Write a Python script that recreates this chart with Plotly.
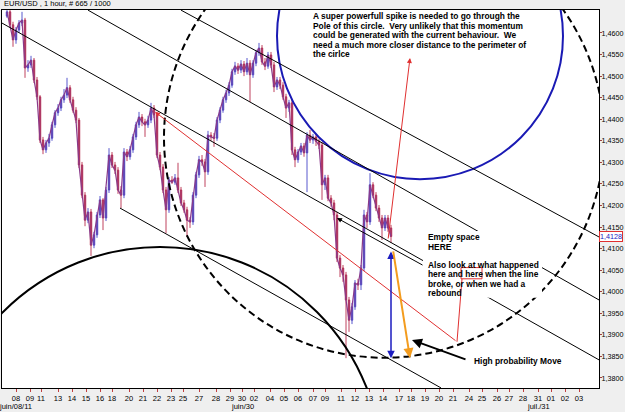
import plotly.graph_objects as go

# ---------------- data (EUR/USD, 1 hour) ----------------
bar_index = list(range(7, 392, 3))

open_ = [1.4639, 1.4649, 1.4619, 1.4584, 1.4607, 1.4623, 1.4630, 1.4519, 1.4526, 1.4537,
         1.4491, 1.4452, 1.4352, 1.4329, 1.4345, 1.4356, 1.4387, 1.4415, 1.4426, 1.4445,
         1.4456, 1.4473, 1.4445, 1.4421, 1.4398, 1.4294, 1.4224, 1.4166, 1.4185, 1.4108,
         1.4132, 1.4178, 1.4213, 1.4171, 1.4236, 1.4317, 1.4294, 1.4282, 1.4236, 1.4224,
         1.4324, 1.4313, 1.4329, 1.4359, 1.4387, 1.4405, 1.4394, 1.4387, 1.4398, 1.4426,
         1.4410, 1.4317, 1.4289, 1.4236, 1.4190, 1.4259, 1.4254, 1.4264, 1.4236, 1.4206,
         1.4190, 1.4166, 1.4162, 1.4224, 1.4271, 1.4306, 1.4301, 1.4278, 1.4363, 1.4359,
         1.4356, 1.4398, 1.4421, 1.4445, 1.4461, 1.4479, 1.4510, 1.4523, 1.4514, 1.4528,
         1.4510, 1.4530, 1.4503, 1.4530, 1.4554, 1.4565, 1.4533, 1.4523, 1.4549, 1.4526,
         1.4475, 1.4491, 1.4479, 1.4452, 1.4426, 1.4438, 1.4329, 1.4306, 1.4324, 1.4338,
         1.4322, 1.4363, 1.4352, 1.4359, 1.4349, 1.4340, 1.4248, 1.4264, 1.4217, 1.4206,
         1.4178, 1.4078, 1.4055, 1.4039, 1.3981, 1.3934, 1.3965, 1.4020, 1.4016, 1.4055,
         1.4178, 1.4162, 1.4248, 1.4224, 1.4194, 1.4171, 1.4148, 1.4171, 1.4148]

high = [1.4653, 1.4653, 1.4626, 1.4614, 1.4630, 1.4649, 1.4635, 1.4537, 1.4547, 1.4542,
        1.4498, 1.4456, 1.4359, 1.4352, 1.4366, 1.4394, 1.4421, 1.4435, 1.4452, 1.4470,
        1.4496, 1.4479, 1.4452, 1.4428, 1.4403, 1.4301, 1.4231, 1.4194, 1.4192, 1.4139,
        1.4185, 1.4222, 1.4217, 1.4243, 1.4333, 1.4324, 1.4301, 1.4289, 1.4245, 1.4333,
        1.4331, 1.4338, 1.4366, 1.4394, 1.4417, 1.4412, 1.4401, 1.4408, 1.4438, 1.4433,
        1.4417, 1.4324, 1.4296, 1.4243, 1.4266, 1.4268, 1.4273, 1.4299, 1.4243, 1.4213,
        1.4197, 1.4173, 1.4231, 1.4278, 1.4315, 1.4317, 1.4308, 1.4373, 1.4370, 1.4368,
        1.4405, 1.4428, 1.4452, 1.4468, 1.4486, 1.4517, 1.4533, 1.4530, 1.4537, 1.4535,
        1.4542, 1.4537, 1.4537, 1.4561, 1.4577, 1.4572, 1.4542, 1.4556, 1.4556, 1.4533,
        1.4498, 1.4498, 1.4486, 1.4459, 1.4445, 1.4445, 1.4336, 1.4331, 1.4345, 1.4345,
        1.4370, 1.4375, 1.4366, 1.4366, 1.4354, 1.4347, 1.4271, 1.4271, 1.4224, 1.4213,
        1.4185, 1.4085, 1.4062, 1.4046, 1.3988, 1.3974, 1.4027, 1.4030, 1.4062, 1.4190,
        1.4185, 1.4275, 1.4254, 1.4231, 1.4201, 1.4178, 1.4178, 1.4178, 1.4155]

low = [1.4635, 1.4612, 1.4568, 1.4575, 1.4600, 1.4616, 1.4496, 1.4510, 1.4519, 1.4484,
       1.4445, 1.4345, 1.4319, 1.4322, 1.4336, 1.4350, 1.4380, 1.4408, 1.4419, 1.4438,
       1.4449, 1.4438, 1.4415, 1.4391, 1.4287, 1.4217, 1.4152, 1.4159, 1.4083, 1.4101,
       1.4125, 1.4171, 1.4143, 1.4164, 1.4229, 1.4287, 1.4273, 1.4227, 1.4194, 1.4217,
       1.4303, 1.4306, 1.4322, 1.4352, 1.4380, 1.4384, 1.4359, 1.4380, 1.4391, 1.4403,
       1.4310, 1.4282, 1.4229, 1.4136, 1.4183, 1.4250, 1.4248, 1.4229, 1.4199, 1.4183,
       1.4127, 1.4148, 1.4155, 1.4217, 1.4264, 1.4292, 1.4243, 1.4271, 1.4350, 1.4336,
       1.4350, 1.4391, 1.4415, 1.4438, 1.4454, 1.4473, 1.4503, 1.4505, 1.4507, 1.4500,
       1.4503, 1.4440, 1.4496, 1.4523, 1.4547, 1.4526, 1.4514, 1.4517, 1.4519, 1.4463,
       1.4468, 1.4470, 1.4445, 1.4403, 1.4417, 1.4317, 1.4289, 1.4299, 1.4317, 1.4313,
       1.4231, 1.4345, 1.4343, 1.4338, 1.4331, 1.4213, 1.4236, 1.4210, 1.4197, 1.4166,
       1.4069, 1.4034, 1.4023, 1.3846, 1.3907, 1.3925, 1.3958, 1.4004, 1.4004, 1.4048,
       1.4148, 1.4155, 1.4217, 1.4187, 1.4162, 1.4120, 1.4141, 1.4139, 1.4113]

close = [1.4649, 1.4619, 1.4584, 1.4607, 1.4623, 1.4630, 1.4519, 1.4526, 1.4537, 1.4491,
         1.4452, 1.4352, 1.4329, 1.4345, 1.4356, 1.4387, 1.4415, 1.4426, 1.4445, 1.4456,
         1.4473, 1.4445, 1.4421, 1.4398, 1.4294, 1.4224, 1.4166, 1.4185, 1.4108, 1.4132,
         1.4178, 1.4213, 1.4171, 1.4236, 1.4317, 1.4294, 1.4282, 1.4236, 1.4224, 1.4324,
         1.4313, 1.4329, 1.4359, 1.4387, 1.4405, 1.4394, 1.4387, 1.4398, 1.4426, 1.4410,
         1.4317, 1.4289, 1.4236, 1.4190, 1.4259, 1.4254, 1.4264, 1.4236, 1.4206, 1.4190,
         1.4166, 1.4162, 1.4224, 1.4271, 1.4306, 1.4301, 1.4278, 1.4363, 1.4359, 1.4356,
         1.4398, 1.4421, 1.4445, 1.4461, 1.4479, 1.4510, 1.4523, 1.4514, 1.4528, 1.4510,
         1.4530, 1.4503, 1.4530, 1.4554, 1.4565, 1.4533, 1.4523, 1.4549, 1.4526, 1.4475,
         1.4491, 1.4479, 1.4452, 1.4426, 1.4438, 1.4329, 1.4306, 1.4324, 1.4338, 1.4322,
         1.4363, 1.4352, 1.4359, 1.4349, 1.4340, 1.4248, 1.4264, 1.4217, 1.4206, 1.4178,
         1.4078, 1.4055, 1.4039, 1.3981, 1.3934, 1.3965, 1.4020, 1.4016, 1.4055, 1.4178,
         1.4162, 1.4248, 1.4224, 1.4194, 1.4171, 1.4148, 1.4171, 1.4148, 1.4128]

last_price = 1.4128

tick_pos = [16, 30, 41, 58, 72, 86, 100, 112, 129, 143, 157, 171, 183, 199,
            216, 230, 242, 254, 270, 284, 298, 313, 325, 341, 355, 369, 383, 399, 411,
            425, 439, 453, 469, 482, 497, 509, 523, 538, 551, 565, 579]
tick_text = ['08', '09', '11', '13', '14', '15', '16', '18', '20', '21', '22', '23', '25', '27',
             '28', '29', '30', '02', '04', '05', '06', '07', '09', '11', '12', '13', '14', '17', '18',
             '19', '20', '21', '24', '25', '26', '27', '28', '31', '01', '02', '03']
period_labels = [(15, 'juin/08/11'), (242, 'juin/30'), (538, 'juil./31')]

price_ticks = [1.380, 1.385, 1.390, 1.395, 1.400, 1.405, 1.410, 1.415, 1.420,
               1.425, 1.430, 1.435, 1.440, 1.445, 1.450, 1.455, 1.460]

# drawing tools placed on the chart (bar index, price)
trend_lines = [((181, 1.4653), (599, 1.4127)),
               ((88, 1.4653), (599, 1.3981)),
               ((2, 1.4623), (599, 1.3842)),
               ((120, 1.4194), (441, 1.3777))]
dashed_circle = (164, 604, 1.3847, 1.4868)
blue_circle = (277, 563, 1.4261, 1.4925)
black_arc = (-62, 382, 1.3074, 1.4104)

note_top = ["A super powerfull spike is needed to go through the",
            "Pole of this circle.\u00a0 Very unlikely that this momentum",
            "could be generated with the current behaviour.\u00a0 We",
            "need a much more closer distance to the perimeter of",
            "the cirlce"]
note_top_y = [1.4639, 1.4617, 1.4595, 1.4573, 1.4551]
note_right = ["Empty space", "HERE", "Also look at what happened",
              "here and here when the line", "broke, or when we had a", "rebound"]
note_right_y = [1.4127, 1.4104, 1.4062, 1.4041, 1.4018, 1.3997]

FONT = "Liberation Sans, Arial, sans-serif"

fig = go.Figure()
fig.add_trace(go.Scatter(x=bar_index, y=close, mode="lines",
                         line=dict(color="#8a3a8a", width=1.2),
                         hoverinfo="skip", showlegend=False))
fig.add_trace(go.Candlestick(
    x=bar_index, open=open_, high=high, low=low, close=close,
    increasing=dict(line=dict(color="#4646c8", width=0.9), fillcolor="#7a1c7a"),
    decreasing=dict(line=dict(color="#b82c4c", width=0.9), fillcolor="#7a1c7a"),
    whiskerwidth=0, hoverinfo="skip", showlegend=False))

shapes = []
# bottom-left solid arc
shapes.append(dict(type="circle", xref="x", yref="y", x0=black_arc[0], x1=black_arc[1],
                   y0=black_arc[2], y1=black_arc[3], line=dict(color="black", width=2)))
# big dashed circle
shapes.append(dict(type="circle", xref="x", yref="y", x0=dashed_circle[0], x1=dashed_circle[1],
                   y0=dashed_circle[2], y1=dashed_circle[3],
                   line=dict(color="black", width=2, dash="7px,4px")))
# blue circle
shapes.append(dict(type="circle", xref="x", yref="y", x0=blue_circle[0], x1=blue_circle[1],
                   y0=blue_circle[2], y1=blue_circle[3], line=dict(color="#1a1ab4", width=2)))
for (a, b) in trend_lines:
    shapes.append(dict(type="line", xref="x", yref="y", x0=a[0], y0=a[1], x1=b[0], y1=b[1],
                       line=dict(color="black", width=1)))
# white box behind the right-hand note
shapes.append(dict(type="rect", xref="x", yref="y", x0=423, x1=542, y0=1.3986, y1=1.4141,
                   fillcolor="white", line=dict(width=0)))
# red path from the "here" box
shapes.append(dict(type="line", xref="x", yref="y", x0=462, y0=1.4030, x1=457, y1=1.3884,
                   line=dict(color="#e03030", width=1)))
shapes.append(dict(type="rect", xref="x", yref="y", x0=461, x1=482, y0=1.4030, y1=1.4056,
                   line=dict(color="#e03030", width=1)))

ann = []
ann.append(dict(xref="paper", yref="paper", x=0, y=1, xanchor="left", yanchor="bottom",
                text="EUR/USD , 1 hour, # 665 / 1000", showarrow=False,
                font=dict(size=7.5, color="black", family=FONT)))
for xv, t in period_labels:
    ann.append(dict(xref="x", yref="paper", x=xv, y=0, yanchor="top", xanchor="center",
                    yshift=-12, text=t, showarrow=False,
                    font=dict(size=7.5, color="black", family=FONT)))
ann.append(dict(xref="paper", yref="y", x=1, y=last_price, xanchor="left", yanchor="middle",
                xshift=0, text="1,4128", showarrow=False, bgcolor="white",
                bordercolor="#e03030", borderwidth=1, borderpad=0,
                font=dict(size=7.2, color="#2020c0", family=FONT)))
for t, yv in zip(note_top, note_top_y):
    ann.append(dict(xref="x", yref="y", x=311, y=yv, xanchor="left", yanchor="middle",
                    text="<b>" + t + "</b>", showarrow=False,
                    font=dict(size=8.4, color="black", family=FONT)))
for t, yv in zip(note_right, note_right_y):
    ann.append(dict(xref="x", yref="y", x=426, y=yv, xanchor="left", yanchor="middle",
                    text="<b>" + t + "</b>", showarrow=False,
                    font=dict(size=8.4, color="black", family=FONT)))
ann.append(dict(xref="x", yref="y", x=472, y=1.3840, xanchor="left", yanchor="middle",
                text="<b>High probability Move</b>", showarrow=False,
                font=dict(size=8.4, color="black", family=FONT)))


def arrow(x, y, ax, ay, color, width, head=2, side="end", size=1.0):
    return dict(xref="x", yref="y", axref="x", ayref="y", x=x, y=y, ax=ax, ay=ay,
                text="", showarrow=True, arrowcolor=color, arrowwidth=width,
                arrowhead=head, arrowsize=size, arrowside=side, standoff=0, startstandoff=0)


ann.append(arrow(155, 1.4417, 457, 1.3884, "#e03030", 1))
ann.append(arrow(410, 1.4542, 388, 1.4120, "#e03030", 1))
ann.append(arrow(391, 1.3846, 391, 1.4097, "#1c1cc0", 1.5, side="end+start"))
ann.append(arrow(410, 1.3846, 393, 1.4097, "#f39c1e", 2))
ann.append(arrow(412, 1.3888, 467, 1.3842, "black", 2))
ann.append(arrow(337, 1.4171, 424, 1.4060, "black", 1))

fig.update_layout(
    width=625, height=412,
    margin=dict(l=2, r=26, t=10, b=24),
    paper_bgcolor="#efefef", plot_bgcolor="white",
    separators=", ",
    showlegend=False,
    font=dict(family=FONT, size=7.2, color="black"),
    shapes=shapes, annotations=ann,
    xaxis=dict(range=[2, 599], rangeslider=dict(visible=False), showgrid=False,
               zeroline=False, showline=True, linecolor="black", linewidth=1, mirror=True,
               ticks="outside", ticklen=3, tickcolor="#c04040",
               tickvals=tick_pos, ticktext=tick_text, tickfont=dict(size=7.5),
               automargin=False),
    yaxis=dict(side="right", range=[1.37768, 1.46533], showgrid=False, zeroline=False,
               showline=True, linecolor="black", linewidth=1, mirror=True,
               ticks="outside", ticklen=2, tickcolor="#a04040",
               ticklabelstandoff=-2,
               tickvals=price_ticks, tickformat=".4f", tickfont=dict(size=7.2),
               automargin=False),
)

fig.write_html("out.html")
